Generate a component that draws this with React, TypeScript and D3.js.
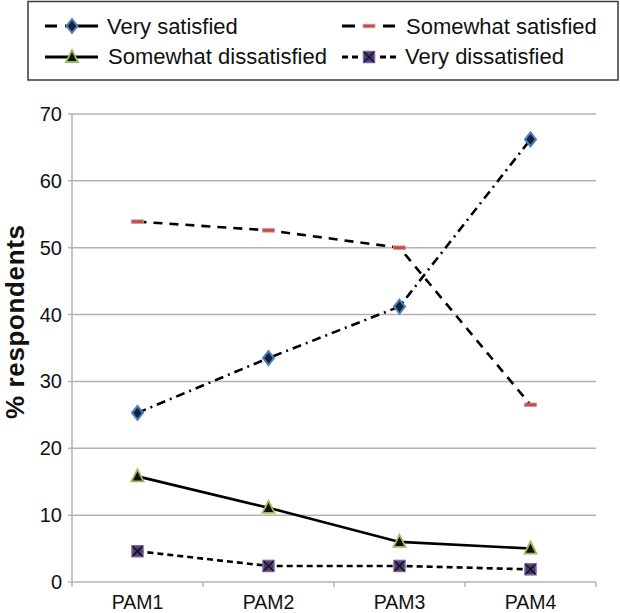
import { line, scaleBand, scaleLinear } from 'd3';

const WIDTH = 620;
const HEIGHT = 613;
const PLOT = { left: 72, right: 596, top: 114, bottom: 582 };

const categories = ['PAM1', 'PAM2', 'PAM3', 'PAM4'];
const yTicks = [0, 10, 20, 30, 40, 50, 60, 70];

const verySatisfied = [25.3, 33.5, 41.2, 66.2];
const somewhatSatisfied = [53.9, 52.6, 50.0, 26.5];
const somewhatDissatisfied = [15.8, 11.1, 6.0, 5.0];
const veryDissatisfied = [4.6, 2.4, 2.4, 1.9];

type Marker = 'diamond' | 'dash' | 'triangle' | 'square';

type Series = {
  name: string;
  values: number[];
  dash: string;
  marker: Marker;
};

const series: Series[] = [
  { name: 'Very satisfied', values: verySatisfied, dash: '9 5 2 5', marker: 'diamond' },
  { name: 'Somewhat satisfied', values: somewhatSatisfied, dash: '9 7', marker: 'dash' },
  { name: 'Somewhat dissatisfied', values: somewhatDissatisfied, dash: '', marker: 'triangle' },
  { name: 'Very dissatisfied', values: veryDissatisfied, dash: '6 4', marker: 'square' },
];

// legend sample segments, as offsets from the sample start
const legendSegments: Array<Array<[number, number]>> = [
  [[0, 12], [20, 53]],
  [[0, 13], [41, 53]],
  [[0, 53]],
  [[0, 6], [10, 16], [38, 44], [48, 54]],
];

const FONT = 'Liberation Sans, Arial, sans-serif';
const GRID = '#b3b3b3';

function MarkerShape({ kind, x, y }: { kind: Marker; x: number; y: number }) {
  switch (kind) {
    case 'diamond':
      return (
        <path
          d={`M${x},${y - 7} L${x + 5.5},${y} L${x},${y + 7} L${x - 5.5},${y} Z`}
          fill="#14213d"
          stroke="#4f81bd"
          strokeWidth={2}
        />
      );
    case 'dash':
      return <rect x={x - 6} y={y - 1.8} width={12} height={3.6} fill="#c0504d" stroke="#d99694" strokeWidth={0.8} />;
    case 'triangle':
      return (
        <path
          d={`M${x},${y - 7} L${x + 6},${y + 5} L${x - 6},${y + 5} Z`}
          fill="#111"
          stroke="#9bbb59"
          strokeWidth={1.8}
        />
      );
    case 'square':
      return (
        <g>
          <rect x={x - 5.5} y={y - 5.5} width={11} height={11} fill="#4b3a73" stroke="#8064a2" strokeWidth={1.5} />
          <path d={`M${x - 5},${y - 5} L${x + 5},${y + 5} M${x + 5},${y - 5} L${x - 5},${y + 5}`} stroke="#111" strokeWidth={1.3} />
        </g>
      );
  }
}

const legendPos = [
  { x: 45, y: 26, textX: 107, textY: 34 },
  { x: 342, y: 26, textX: 406, textY: 34 },
  { x: 45, y: 57, textX: 108, textY: 64 },
  { x: 342, y: 57, textX: 405, textY: 64 },
];

export default function App() {
  const xScale = scaleBand<string>().domain(categories).range([PLOT.left, PLOT.right]);
  const yScale = scaleLinear().domain([0, 70]).range([PLOT.bottom, PLOT.top]);
  const cx = (c: string) => (xScale(c) ?? 0) + xScale.bandwidth() / 2;

  const pathFor = line<number>()
    .x((_, i) => cx(categories[i]))
    .y((v) => yScale(v));

  return (
    <svg
      width={WIDTH}
      height={HEIGHT}
      viewBox={`0 0 ${WIDTH} ${HEIGHT}`}
      style={{ position: 'absolute', left: 0, top: 0, background: '#fff' }}
      fontFamily={FONT}
    >
      {/* legend */}
      <rect x={28} y={1.5} width={590} height={78.5} fill="#fff" stroke="#3a3a3a" strokeWidth={1.5} />
      {series.map((s, i) => {
        const p = legendPos[i];
        return (
          <g key={s.name}>
            {legendSegments[i].map(([a, b]) => (
              <line key={a} x1={p.x + a} x2={p.x + b} y1={p.y} y2={p.y} stroke="#000" strokeWidth={3} />
            ))}
            <MarkerShape kind={s.marker} x={p.x + 27} y={p.y} />
            <text x={p.textX} y={p.textY} fontSize={22} fill="#111">
              {s.name}
            </text>
          </g>
        );
      })}

      {/* grid and axes */}
      {yTicks.map((t) => (
        <g key={t}>
          <line x1={PLOT.left - 4} x2={PLOT.right} y1={yScale(t)} y2={yScale(t)} stroke={GRID} strokeWidth={1.5} />
          <text x={62} y={yScale(t) + 7} fontSize={20} textAnchor="end" fill="#111">
            {t}
          </text>
        </g>
      ))}
      <line x1={PLOT.left} x2={PLOT.left} y1={PLOT.top} y2={PLOT.bottom + 5} stroke={GRID} strokeWidth={1.5} />
      {categories.map((c) => (
        <g key={c}>
          <line
            x1={(xScale(c) ?? 0) + xScale.bandwidth()}
            x2={(xScale(c) ?? 0) + xScale.bandwidth()}
            y1={PLOT.bottom}
            y2={PLOT.bottom + 5}
            stroke={GRID}
            strokeWidth={1.5}
          />
          <text x={cx(c)} y={609} fontSize={19.5} textAnchor="middle" fill="#111">
            {c}
          </text>
        </g>
      ))}

      <text
        fontSize={26}
        fontWeight="bold"
        textAnchor="middle"
        fill="#111"
        textLength={194}
        lengthAdjust="spacing"
        transform={`translate(24 ${322}) rotate(-90)`}
      >
        % respondents
      </text>

      {/* series */}
      {series.map((s) => (
        <path
          key={s.name}
          d={pathFor(s.values) ?? ''}
          fill="none"
          stroke="#000"
          strokeWidth={2.6}
          strokeDasharray={s.dash || undefined}
        />
      ))}
      {series.map((s) =>
        s.values.map((v, i) => (
          <MarkerShape key={`${s.name}-${i}`} kind={s.marker} x={cx(categories[i])} y={yScale(v)} />
        )),
      )}
    </svg>
  );
}
